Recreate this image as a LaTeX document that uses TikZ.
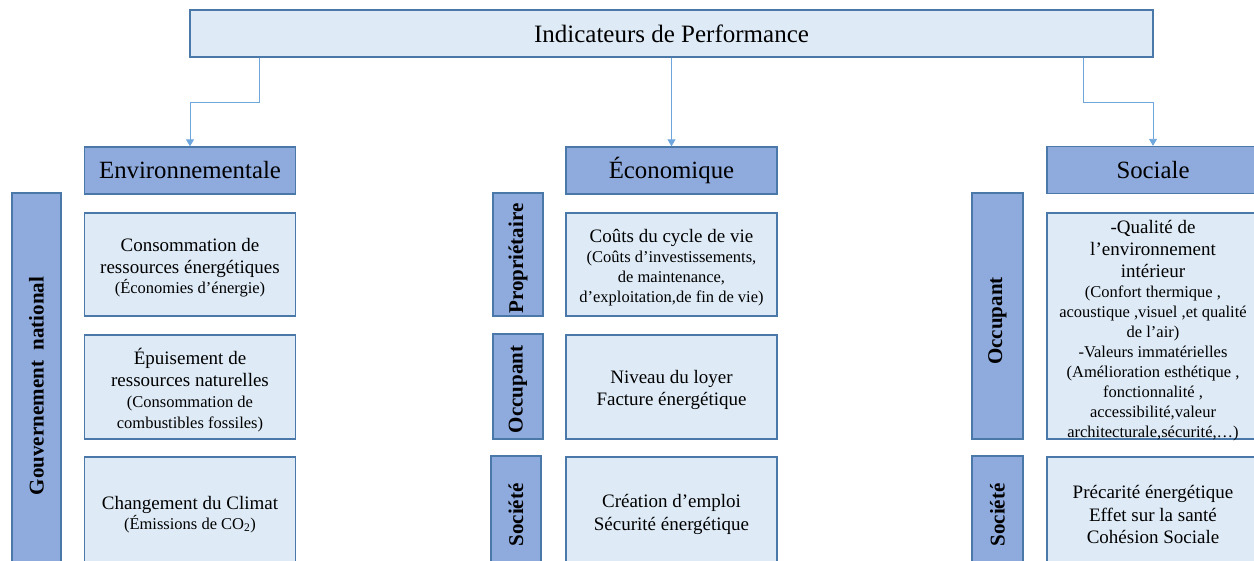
\documentclass[tikz,border=0pt]{standalone}
\usepackage{fontspec}
\setmainfont{Liberation Serif}
\usetikzlibrary{arrows.meta,positioning}
\definecolor{paleblue}{HTML}{DEEBF7}
\definecolor{headblue}{HTML}{8FAADC}
\definecolor{edgeblue}{HTML}{4A78A8}
\definecolor{linkblue}{HTML}{6FA6DC}
\newcommand{\bigtxt}{\fontsize{19}{23}\selectfont}
\newcommand{\smalltxt}{\fontsize{16.5}{20}\selectfont}
\tikzstyle{topbox}=[rectangle,draw=edgeblue,fill=paleblue,line width=1.3pt,minimum width=963pt,minimum height=47pt,font=\fontsize{25}{29}\selectfont]
\tikzstyle{headbox}=[rectangle,draw=edgeblue,fill=headblue,line width=1.3pt,minimum width=211pt,minimum height=47pt,font=\fontsize{24.8}{29}\selectfont]
\tikzstyle{itembox}=[rectangle,draw=edgeblue,fill=paleblue,line width=1.3pt,minimum width=211pt,inner sep=0pt]
\tikzstyle{itemtext}=[inner sep=0pt,align=center,font=\smalltxt]
\tikzstyle{sidebar}=[rectangle,draw=edgeblue,fill=headblue,line width=1.3pt,minimum width=49pt,inner sep=0pt]
\tikzstyle{sidetext}=[inner sep=0pt,rotate=90,font=\fontsize{21}{25}\selectfont\bfseries]
\tikzstyle{link}=[draw=linkblue,line width=0.9pt,-{Triangle[width=8pt,length=7pt]}]

\begin{document}
\begin{tikzpicture}[x=1pt,y=-1pt]
\useasboundingbox (0,0) rectangle (1254,561);
%--------------------start object code --------------------
	\node[topbox] (title) at (671.5,33.5) {Indicateurs de Performance};

	%Headers
	\node[headbox] (env) at (190,170.5) {Environnementale};
	\node[headbox] (eco) at (671.5,170.5) {Économique};
	\node[headbox,minimum width=212pt] (soc) at (1153,170) {Sociale};

	%Links
	\draw[link] ([xshift=70pt]title.south west) -- ++(0,45) -| (env.north);
	\draw[link] (title.south) -- (eco.north);
	\draw[link] ([xshift=-70pt]title.south east) -- ++(0,45) -| (soc.north);

	%Environnementale
	\node[sidebar,minimum height=386pt] (gouv) at (36.5,386) {};
	\node[sidetext] (gouvTxt) at (gouv.center) {Gouvernement\hspace{0.5em}national};
	\node[itembox,minimum height=103pt] (env1) at (190,264.5) {};
	\node[itemtext] (env1Txt) at ([yshift=-3pt]env1.center)
		{{\bigtxt Consommation de}\\[2.5pt] {\bigtxt ressources énergétiques}\\ (Économies d’énergie)};
	\node[itembox,minimum height=104pt] (env2) at (190,387) {};
	\node[itemtext] (env2Txt) at ([yshift=-3pt]env2.center)
		{{\bigtxt Épuisement de}\\[2pt] {\bigtxt ressources naturelles}\\[1pt] (Consommation de\\[1.5pt] combustibles fossiles)};
	\node[itembox,minimum height=109pt] (env3) at (190,511.5) {};
	\node[itemtext] (env3Txt) at ([yshift=-3pt]env3.center)
		{{\bigtxt Changement du Climat}\\ (Émissions de CO\textsubscript{2})};

	%Economique
	\node[sidebar,minimum width=50pt,minimum height=123pt] (proprio) at (518,254.5) {};
	\node[sidetext] (proprioTxt) at ([yshift=-4pt]proprio.center) {Propriétaire};
	\node[sidebar,minimum width=50pt,minimum height=105pt] (occEco) at (518,386.5) {};
	\node[sidetext] (occEcoTxt) at ([yshift=-3pt]occEco.center) {Occupant};
	\node[sidebar,minimum width=50pt,minimum height=110pt] (socEco) at (516,511) {};
	\node[sidetext] (socEcoTxt) at ([yshift=-4pt]socEco.center) {Société};
	\node[itembox,minimum height=103pt] (eco1) at (671.5,264.5) {};
	\node[itemtext] (eco1Txt) at ([yshift=-3pt]eco1.center)
		{{\bigtxt Coûts du cycle de vie}\\ (Coûts d’investissements,\\ de maintenance,\\ d’exploitation,de fin de vie)};
	\node[itembox,minimum height=104pt] (eco2) at (671.5,387) {};
	\node[itemtext] (eco2Txt) at ([yshift=-3pt]eco2.center)
		{{\bigtxt Niveau du loyer}\\[2.5pt] {\bigtxt Facture énergétique}};
	\node[itembox,minimum height=109pt] (eco3) at (671.5,511.5) {};
	\node[itemtext] (eco3Txt) at ([yshift=-3pt]eco3.center)
		{{\bigtxt Création d’emploi}\\[2.5pt] {\bigtxt Sécurité énergétique}};

	%Sociale
	\node[sidebar,minimum width=51pt,minimum height=246pt] (occSoc) at (997.5,316) {};
	\node[sidetext] (occSocTxt) at ([yshift=-5pt]occSoc.center) {Occupant};
	\node[sidebar,minimum width=51pt,minimum height=110pt] (socSoc) at (997.5,511) {};
	\node[sidetext] (socSocTxt) at ([yshift=-4pt]socSoc.center) {Société};
	\node[itembox,minimum width=212pt,minimum height=226pt] (soc1) at (1153,326) {};
	\node[itemtext] (soc1Txt) at ([yshift=-5pt]soc1.center)
		{{\bigtxt -Qualité de}\\[2pt] {\bigtxt l’environnement}\\[1.5pt] {\bigtxt intérieur}\\[0.5pt]
		 (Confort thermique ,\\ acoustique ,visuel ,et qualité\\ de l’air)\\ -Valeurs immatérielles\\
		 (Amélioration esthétique ,\\ fonctionnalité ,\\ accessibilité,valeur\\ architecturale,sécurité,…)};
	\node[itembox,minimum width=212pt,minimum height=109pt] (soc2) at (1153,511.5) {};
	\node[itemtext] (soc2Txt) at ([yshift=-3pt]soc2.center)
		{{\bigtxt Précarité énergétique}\\[2.5pt] {\bigtxt Effet sur la santé}\\[2.5pt] {\bigtxt Cohésion Sociale}};
%-------------------------end object code-----------------------
\end{tikzpicture}
\end{document}
